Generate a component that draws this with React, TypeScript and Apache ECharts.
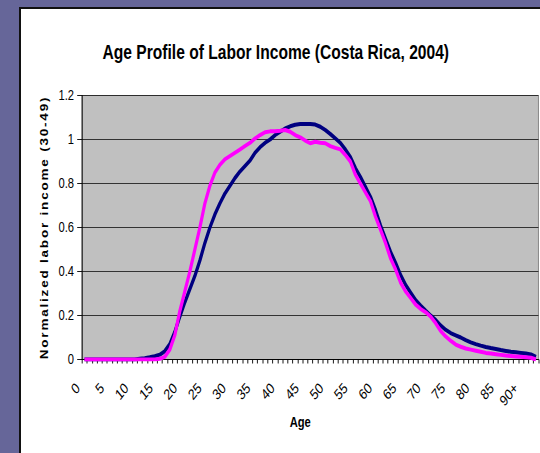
import React, { useEffect, useRef } from "react";
import * as echarts from "echarts";

const TITLE = "Age Profile of Labor Income (Costa Rica, 2004)";
const X_NAME = "Age";
const Y_NAME = "Normalized labor income (30-49)";

const AGES: string[] = Array.from({ length: 90 }, (_, i) => String(i)).concat(["90+"]);

const Y_TICKS = [0, 0.2, 0.4, 0.6, 0.8, 1, 1.2];

const NAVY_SERIES = [
  0, 0, 0, 0, 0, 0, 0, 0, 0, 0,
  0, 0.003, 0.006, 0.01, 0.015, 0.022, 0.038, 0.07, 0.125, 0.195,
  0.26, 0.32, 0.38, 0.45, 0.53, 0.6, 0.66, 0.71, 0.755, 0.79,
  0.825, 0.855, 0.88, 0.905, 0.94, 0.965, 0.985, 1.0, 1.02, 1.035,
  1.05, 1.06, 1.067, 1.07, 1.07, 1.07, 1.068, 1.058, 1.043, 1.025,
  1.005, 0.985, 0.955, 0.92, 0.87, 0.83, 0.785, 0.74, 0.68, 0.61,
  0.55, 0.49, 0.44, 0.385, 0.34, 0.305, 0.27, 0.245, 0.222, 0.2,
  0.18, 0.155, 0.135, 0.12, 0.11, 0.1, 0.088, 0.078, 0.07, 0.063,
  0.057, 0.052, 0.048, 0.043, 0.039, 0.035, 0.033, 0.03, 0.027, 0.023,
  0.012,
];

const PINK_SERIES = [
  0, 0, 0, 0, 0, 0, 0, 0, 0, 0,
  0, 0, 0, 0, 0, 0.003, 0.012, 0.045, 0.11, 0.22,
  0.31, 0.4, 0.5, 0.6, 0.71, 0.79, 0.85, 0.885, 0.91, 0.925,
  0.94, 0.955, 0.97, 0.985, 1.005, 1.02, 1.033, 1.037, 1.038, 1.04,
  1.043, 1.035, 1.02, 1.01, 0.995, 0.983, 0.99, 0.985, 0.983, 0.97,
  0.962, 0.955, 0.93, 0.9, 0.84, 0.8, 0.76, 0.72, 0.65, 0.59,
  0.53, 0.46, 0.41, 0.35, 0.31, 0.28, 0.25, 0.23, 0.215, 0.195,
  0.165, 0.13, 0.105, 0.085, 0.068, 0.058, 0.05, 0.045, 0.04, 0.035,
  0.03, 0.027, 0.024, 0.021, 0.018, 0.016, 0.014, 0.012, 0.01, 0.008,
  0,
];

const FONT = "'Liberation Sans', Arial, sans-serif";
const SQUISH = 0.8;
const CARD_W = 519;
const CARD_H = 444;

export default function App() {
  const ref = useRef<HTMLDivElement>(null);

  useEffect(() => {
    if (!ref.current) return;
    const chart = echarts.init(ref.current, undefined, { renderer: "svg" });
    const gridTop = 86.5;
    const gridHeight = 264;
    chart.setOption({
      animation: false,
      backgroundColor: "#ffffff",
      title: {
        text: TITLE,
        left: 97,
        top: 28,
        textStyle: {
          fontFamily: FONT,
          fontSize: 19.5,
          fontWeight: "bold",
          color: "#000",
        },
      },
      grid: [
        {
          left: 76.25,
          top: gridTop,
          width: 570.6,
          height: gridHeight,
          show: true,
          backgroundColor: "#c0c0c0",
          borderColor: "#808080",
          borderWidth: 1,
        },
        {
          left: 71,
          top: gridTop,
          width: 548,
          height: gridHeight,
          show: false,
        },
      ],
      xAxis: [
        {
          type: "category",
          gridIndex: 0,
          data: AGES,
          boundaryGap: true,
          name: X_NAME,
          nameLocation: "middle",
          nameGap: 56,
          nameTextStyle: {
            fontFamily: FONT,
            fontSize: 14,
            fontWeight: "bold",
            color: "#000",
            padding: [0, 25, 0, 0],
          },
          axisLine: { show: true, lineStyle: { color: "#000", width: 1 } },
          axisTick: { show: true, interval: 0, length: 4, lineStyle: { color: "#000" } },
          axisLabel: { show: false },
          splitLine: { show: false },
        },
        {
          type: "category",
          gridIndex: 1,
          data: AGES,
          boundaryGap: false,
          axisLine: { show: false },
          axisTick: { show: false },
          axisLabel: {
            show: true,
            interval: 4,
            rotate: 45,
            margin: 26,
            fontFamily: FONT,
            fontSize: 15,
            color: "#000",
          },
          splitLine: { show: false },
        },
      ],
      yAxis: [
        {
          type: "value",
          gridIndex: 0,
          min: 0,
          max: 1.2,
          interval: 0.2,
          name: Y_NAME,
          nameLocation: "middle",
          nameRotate: 90,
          nameGap: 37,
          nameTextStyle: {
            fontFamily: FONT,
            fontSize: 13.5,
            fontWeight: "bold",
            color: "#000",
          },
          axisLine: { show: true, lineStyle: { color: "#000", width: 1 } },
          axisTick: { show: true, length: 6, lineStyle: { color: "#000" } },
          axisLabel: {
            margin: 10,
            fontFamily: FONT,
            fontSize: 14,
            color: "#000",
            formatter: (v: number) => {
              const hit = Y_TICKS.find((t) => Math.abs(t - v) < 1e-9);
              return hit === undefined ? "" : String(hit);
            },
          },
          splitLine: { show: true, lineStyle: { color: "#222", width: 1 } },
        },
        {
          type: "value",
          gridIndex: 1,
          min: 0,
          max: 1.2,
          show: false,
        },
      ],
      series: [
        {
          name: "Profile A",
          type: "line",
          xAxisIndex: 0,
          yAxisIndex: 0,
          data: NAVY_SERIES,
          symbol: "none",
          lineStyle: { color: "#000080", width: 4 },
          itemStyle: { color: "#000080" },
        },
        {
          name: "Profile B",
          type: "line",
          xAxisIndex: 0,
          yAxisIndex: 0,
          data: PINK_SERIES,
          symbol: "none",
          lineStyle: { color: "#ff00ff", width: 4 },
          itemStyle: { color: "#ff00ff" },
        },
      ],
    });

    const texts = ref.current.querySelectorAll("text");
    texts.forEach((t) => {
      if ((t.textContent || "").indexOf("Normalized") >= 0) {
        (t as SVGTextElement).style.letterSpacing = "1.8px";
      }
    });

    return () => {
      chart.dispose();
    };
  }, []);

  return (
    <div
      style={{
        position: "fixed",
        left: 0,
        top: 0,
        width: 540,
        height: 453,
        background: "#666699",
        overflow: "hidden",
      }}
    >
      <div
        style={{
          position: "absolute",
          left: 19,
          top: 7,
          width: CARD_W,
          height: CARD_H,
          background: "#ffffff",
          borderLeft: "2px solid #111",
          borderTop: "2px solid #111",
          overflow: "hidden",
        }}
      >
        <div
          ref={ref}
          style={{
            width: CARD_W / SQUISH,
            height: CARD_H,
            transform: `scaleX(${SQUISH})`,
            transformOrigin: "0 0",
          }}
        />
      </div>
    </div>
  );
}
